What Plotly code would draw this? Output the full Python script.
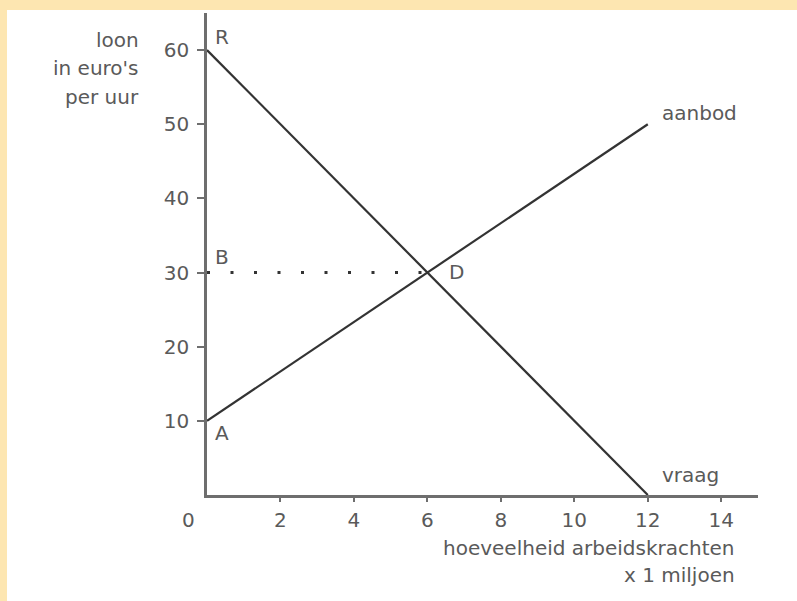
import plotly.graph_objects as go

# data
supply_x = [0, 12]
supply_y = [10, 50]
demand_x = [0, 12]
demand_y = [60, 0]
eq_x = [0, 6]
eq_y = [30, 30]
x_ticks = [2, 4, 6, 8, 10, 12, 14]
y_ticks = [10, 20, 30, 40, 50, 60]
point_labels = ["R", "B", "D", "A"]
point_x = [0.16, 0.16, 6.53, 0.16]
point_y = [61.8, 32.1, 30.1, 8.4]
curve_labels = ["aanbod", "vraag"]
curve_lx = [12.33, 12.33]
curve_ly = [51.5, 2.7]

FONT = "DejaVu Sans"
TXT = "#5a5a5a"
AX = "#6e6e6e"
LN = "#333333"
BEIGE = "#FDE6B1"

W, H = 797, 601
L, R, T, B = 207, 39, 13, 106
PW, PH = W - L - R, H - T - B

def px(x):
    return (x - L) / PW

def py(y):
    return (H - B - y) / PH

fig = go.Figure()
fig.add_trace(go.Scatter(x=eq_x, y=eq_y, mode="lines",
                         line=dict(color=LN, width=3, dash="3px,20.5px"),
                         hoverinfo="skip"))
fig.add_trace(go.Scatter(x=supply_x, y=supply_y, mode="lines",
                         line=dict(color=LN, width=2.2), hoverinfo="skip"))
fig.add_trace(go.Scatter(x=demand_x, y=demand_y, mode="lines",
                         line=dict(color=LN, width=2.2), hoverinfo="skip"))

ann = []
for t, x, y in zip(point_labels, point_x, point_y):
    ann.append(dict(x=x, y=y, xref="x", yref="y", text=t, showarrow=False,
                    xanchor="left", yanchor="middle"))
for t, x, y in zip(curve_labels, curve_lx, curve_ly):
    ann.append(dict(x=x, y=y, xref="x", yref="y", text=t, showarrow=False,
                    xanchor="left", yanchor="middle"))
for t, y in zip(["loon", "in euro's", "per uur"], [40, 68, 97]):
    ann.append(dict(x=px(141), y=py(y), xref="paper", yref="paper", text=t,
                    showarrow=False, xanchor="right", yanchor="middle"))
ann.append(dict(x=px(188), y=py(520), xref="paper", yref="paper", text="0",
                showarrow=False, xanchor="center", yanchor="middle"))
for t, y in zip(["hoeveelheid arbeidskrachten", "x 1 miljoen"], [548, 575]):
    ann.append(dict(x=px(737), y=py(y), xref="paper", yref="paper", text=t,
                    showarrow=False, xanchor="right", yanchor="middle"))

fig.update_layout(
    width=W, height=H,
    margin=dict(l=L, r=R, t=T, b=B, pad=0),
    paper_bgcolor=BEIGE,
    plot_bgcolor="white",
    showlegend=False,
    font=dict(family=FONT, size=20, color=TXT),
    annotations=ann,
    shapes=[dict(type="rect", xref="paper", yref="paper", layer="below",
                 x0=px(7), x1=px(W + 5), y0=py(H + 5), y1=py(10),
                 fillcolor="white", line=dict(width=0))],
    xaxis=dict(range=[0, 15], tickvals=x_ticks, showgrid=False, zeroline=False,
               showline=True, linecolor=AX, linewidth=2.5,
               ticks="outside", ticklen=4, tickwidth=2, tickcolor=AX,
               ticklabelstandoff=1, fixedrange=True),
    yaxis=dict(range=[0, 65], tickvals=y_ticks, showgrid=False, zeroline=False,
               showline=True, linecolor=AX, linewidth=2.5,
               ticks="outside", ticklen=7, tickwidth=2, tickcolor=AX,
               ticklabelstandoff=4, fixedrange=True),
)

fig.write_html(
    "out.html",
    config={"displayModeBar": False},
    post_script="document.body.style.margin='0';document.body.style.overflow='hidden';",
)
